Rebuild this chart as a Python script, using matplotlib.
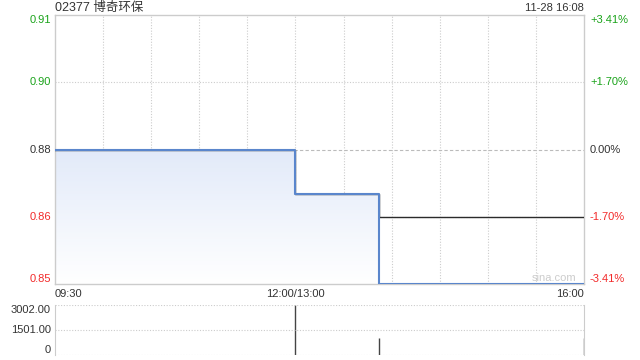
import matplotlib.pyplot as plt
import matplotlib.patches as mpatches
from matplotlib.colors import LinearSegmentedColormap
import numpy as np

plt.rcParams['font.family'] = ['Liberation Sans', 'Noto Sans CJK SC', 'DejaVu Sans']

title = "02377 博奇环保"
stamp = "11-28 16:08"
prev_close = 0.88
pct_max = 0.0341

# trading-minute index: 0 = 09:30, 150 = 12:00/13:00, 330 = 16:00
trade_min = [0, 150, 202, 330]
price = [0.88, 0.87, 0.85, 0.85]
avg_price = [0.88, 0.87, 0.865, 0.865]
volume = [0, 3002, 1040, 1000]

x_ticks = [0, 150, 330]
x_labels = ["09:30", "12:00/13:00", "16:00"]
pct_levels = [0.0341, 0.0170, 0.0, -0.0170, -0.0341]
pct_labels = ["+3.41%", "+1.70%", "0.00%", "-1.70%", "-3.41%"]
price_labels = ["0.91", "0.90", "0.88", "0.86", "0.85"]
vol_ticks = [3002, 1501, 0]
vol_labels = ["3002.00", "1501.00", "0"]

green = '#1aa31a'
red = '#f22a2a'
dark = '#333333'
blue = '#5a86cc'
grid = '#cccccc'

fig = plt.figure(figsize=(6.4, 3.6), dpi=100)
ax = fig.add_axes([55/640, 1-284/360, 529/640, 269/360])
vax = fig.add_axes([55/640, 1-355/360, 529/640, 50/360])
px = 330/529  # data units per pixel on x

lo = prev_close*(1-pct_max)
hi = prev_close*(1+pct_max)
ax.set_xlim(0, 330)
ax.set_ylim(lo, hi)

# vertical grid every 30 minutes
for m in range(30, 330, 30):
    ax.axvline(m, color=grid, lw=0.8, ls=(0, (1, 1.5)), zorder=1)
for p in pct_levels[1:-1]:
    if p == 0:
        ax.axhline(prev_close, color='#bbbbbb', lw=0.8, ls=(0, (3, 2)), zorder=1)
    else:
        ax.axhline(prev_close*(1+p), color=grid, lw=0.8, ls=(0, (1, 1.5)), zorder=1)

# gradient fill under price line
xs = np.array(trade_min, dtype=float)
ys = np.array(price)
poly_x = []
poly_y = []
for i in range(len(xs)-1):
    poly_x += [xs[i], xs[i+1]]
    poly_y += [ys[i], ys[i]]
verts = [(poly_x[0], lo)] + list(zip(poly_x, poly_y)) + [(poly_x[-1], lo)]
patch = mpatches.Polygon(verts, closed=True, facecolor='none', edgecolor='none')
ax.add_patch(patch)
grad = np.linspace(1, 0, 256).reshape(-1, 1)
cmap = LinearSegmentedColormap.from_list('g', ['#ffffff', '#e2eaf9'])
im = ax.imshow(grad, extent=[0, 330, lo, max(price)], aspect='auto', cmap=cmap,
               origin='upper', zorder=2)
im.set_clip_path(patch)

ax.plot(trade_min, avg_price, drawstyle='steps-post', color='#2b2b2b', lw=1, zorder=3)
ax.plot(trade_min, price, drawstyle='steps-post', color=blue, lw=1.5, zorder=4)

for s in ax.spines.values():
    s.set_color('#cccccc')
    s.set_linewidth(1)
ax.set_xticks([])
ax.set_yticks([])

# left price labels and right percent labels
for i, (p, lab) in enumerate(zip(pct_levels, pct_labels)):
    y = prev_close*(1+p)
    col = green if p > 0 else (red if p < 0 else dark)
    va = 'center'
    if i == 0:
        va = 'top'
    elif i == len(pct_levels)-1:
        va = 'bottom'
    ax.text(-4*px, y, price_labels[i], ha='right', va=va, color=col, fontsize=8)
    ax.text(330 + 6*px, y, lab, ha='left', va=va, color=col, fontsize=8)

for m, lab, ha in zip(x_ticks, x_labels, ['left', 'center', 'right']):
    ax.text(m, lo - 0.0012, lab, ha=ha, va='top', fontsize=8, color=dark)

fig.text(55/640, 1-8/360, title, ha='left', va='center', fontsize=9, color=dark)
fig.text(584/640, 1-8/360, stamp, ha='right', va='center', fontsize=8, color=dark)
ax.text(325, lo + 0.0003, "sina.com", ha='right', va='bottom', fontsize=8, color='#cccccc')

# volume panel
vax.set_xlim(0, 330)
vax.set_ylim(0, 3002)
vax.vlines(trade_min, 0, volume, color='#444444', lw=1)
for v in vol_ticks:
    vax.axhline(v, color=grid, lw=0.8, ls=(0, (1, 1.5)))
for s in ['top', 'bottom']:
    vax.spines[s].set_visible(False)
for s in ['left', 'right']:
    vax.spines[s].set_color('#cccccc')
vax.set_xticks([])
vax.set_yticks([])
for v, lab in zip(vol_ticks, vol_labels):
    va = 'top' if v == vol_ticks[0] else ('bottom' if v == 0 else 'center')
    vax.text(-4*px, v, lab, ha='right', va=va, fontsize=8, color=dark)

fig.savefig('out.png', dpi=100)
